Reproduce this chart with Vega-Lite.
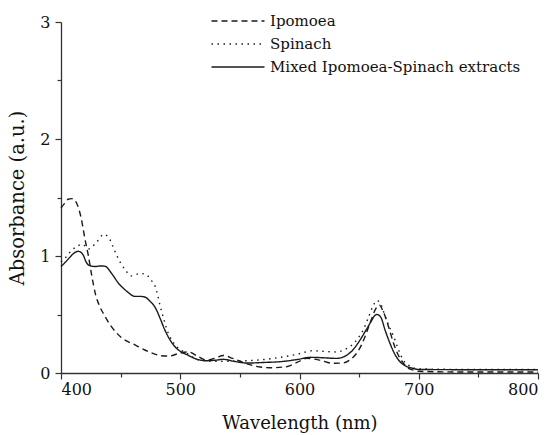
{
  "$schema": "https://vega.github.io/schema/vega-lite/v6.json",
  "width": 477,
  "height": 351,
  "autosize": {"type": "none"},
  "padding": {"left": 61, "top": 22, "right": 17, "bottom": 62},
  "background": "white",
  "config": {
    "view": {"stroke": null},
    "font": "DejaVu Serif",
    "axis": {"grid": false, "domainColor": "#333", "tickColor": "#333", "domainWidth": 1.3, "tickWidth": 1.2, "labelFont": "DejaVu Serif", "labelFontSize": 16, "labelColor": "#111", "titleFont": "DejaVu Serif", "titleFontSize": 18, "titleFontWeight": "normal", "titleColor": "#111"},
    "legend": {"labelFont": "DejaVu Serif"}
  },
  "data": {"values": [
    {"wl":400,"abs":1.41,"sample":"Ipomoea"},{"wl":403,"abs":1.45,"sample":"Ipomoea"},{"wl":406,"abs":1.485,"sample":"Ipomoea"},{"wl":409,"abs":1.49,"sample":"Ipomoea"},{"wl":412,"abs":1.47,"sample":"Ipomoea"},{"wl":415,"abs":1.4,"sample":"Ipomoea"},{"wl":417,"abs":1.32,"sample":"Ipomoea"},{"wl":420,"abs":1.15,"sample":"Ipomoea"},{"wl":423,"abs":1.0,"sample":"Ipomoea"},{"wl":426,"abs":0.82,"sample":"Ipomoea"},{"wl":429,"abs":0.67,"sample":"Ipomoea"},{"wl":432,"abs":0.58,"sample":"Ipomoea"},{"wl":436,"abs":0.5,"sample":"Ipomoea"},{"wl":442,"abs":0.4,"sample":"Ipomoea"},{"wl":451,"abs":0.3,"sample":"Ipomoea"},{"wl":462,"abs":0.24,"sample":"Ipomoea"},{"wl":473,"abs":0.185,"sample":"Ipomoea"},{"wl":484,"abs":0.148,"sample":"Ipomoea"},{"wl":491,"abs":0.145,"sample":"Ipomoea"},{"wl":498,"abs":0.165,"sample":"Ipomoea"},{"wl":507,"abs":0.18,"sample":"Ipomoea"},{"wl":515,"abs":0.14,"sample":"Ipomoea"},{"wl":522,"abs":0.11,"sample":"Ipomoea"},{"wl":530,"abs":0.13,"sample":"Ipomoea"},{"wl":536,"abs":0.15,"sample":"Ipomoea"},{"wl":544,"abs":0.125,"sample":"Ipomoea"},{"wl":556,"abs":0.078,"sample":"Ipomoea"},{"wl":565,"abs":0.055,"sample":"Ipomoea"},{"wl":575,"abs":0.045,"sample":"Ipomoea"},{"wl":589,"abs":0.054,"sample":"Ipomoea"},{"wl":598,"abs":0.09,"sample":"Ipomoea"},{"wl":606,"abs":0.125,"sample":"Ipomoea"},{"wl":617,"abs":0.11,"sample":"Ipomoea"},{"wl":628,"abs":0.083,"sample":"Ipomoea"},{"wl":636,"abs":0.085,"sample":"Ipomoea"},{"wl":642,"abs":0.11,"sample":"Ipomoea"},{"wl":648,"abs":0.17,"sample":"Ipomoea"},{"wl":652,"abs":0.24,"sample":"Ipomoea"},{"wl":656,"abs":0.34,"sample":"Ipomoea"},{"wl":660,"abs":0.45,"sample":"Ipomoea"},{"wl":664,"abs":0.55,"sample":"Ipomoea"},{"wl":667,"abs":0.58,"sample":"Ipomoea"},{"wl":670,"abs":0.53,"sample":"Ipomoea"},{"wl":673,"abs":0.45,"sample":"Ipomoea"},{"wl":676,"abs":0.35,"sample":"Ipomoea"},{"wl":679,"abs":0.25,"sample":"Ipomoea"},{"wl":683,"abs":0.15,"sample":"Ipomoea"},{"wl":686,"abs":0.1,"sample":"Ipomoea"},{"wl":690,"abs":0.05,"sample":"Ipomoea"},{"wl":695,"abs":0.026,"sample":"Ipomoea"},{"wl":700,"abs":0.015,"sample":"Ipomoea"},{"wl":720,"abs":0.01,"sample":"Ipomoea"},{"wl":750,"abs":0.008,"sample":"Ipomoea"},{"wl":780,"abs":0.008,"sample":"Ipomoea"},{"wl":800,"abs":0.008,"sample":"Ipomoea"},
    {"wl":400,"abs":0.95,"sample":"Spinach"},{"wl":405,"abs":1.0,"sample":"Spinach"},{"wl":409,"abs":1.05,"sample":"Spinach"},{"wl":413,"abs":1.08,"sample":"Spinach"},{"wl":418,"abs":1.1,"sample":"Spinach"},{"wl":423,"abs":1.06,"sample":"Spinach"},{"wl":430,"abs":1.12,"sample":"Spinach"},{"wl":436,"abs":1.185,"sample":"Spinach"},{"wl":441,"abs":1.14,"sample":"Spinach"},{"wl":444,"abs":1.07,"sample":"Spinach"},{"wl":447,"abs":1.0,"sample":"Spinach"},{"wl":450,"abs":0.94,"sample":"Spinach"},{"wl":454,"abs":0.88,"sample":"Spinach"},{"wl":459,"abs":0.83,"sample":"Spinach"},{"wl":466,"abs":0.85,"sample":"Spinach"},{"wl":471,"abs":0.845,"sample":"Spinach"},{"wl":475,"abs":0.8,"sample":"Spinach"},{"wl":479,"abs":0.74,"sample":"Spinach"},{"wl":484,"abs":0.54,"sample":"Spinach"},{"wl":490,"abs":0.34,"sample":"Spinach"},{"wl":495,"abs":0.25,"sample":"Spinach"},{"wl":500,"abs":0.2,"sample":"Spinach"},{"wl":506,"abs":0.165,"sample":"Spinach"},{"wl":516,"abs":0.11,"sample":"Spinach"},{"wl":530,"abs":0.1,"sample":"Spinach"},{"wl":545,"abs":0.1,"sample":"Spinach"},{"wl":556,"abs":0.105,"sample":"Spinach"},{"wl":570,"abs":0.115,"sample":"Spinach"},{"wl":584,"abs":0.134,"sample":"Spinach"},{"wl":598,"abs":0.16,"sample":"Spinach"},{"wl":611,"abs":0.19,"sample":"Spinach"},{"wl":620,"abs":0.185,"sample":"Spinach"},{"wl":631,"abs":0.18,"sample":"Spinach"},{"wl":638,"abs":0.2,"sample":"Spinach"},{"wl":644,"abs":0.24,"sample":"Spinach"},{"wl":650,"abs":0.31,"sample":"Spinach"},{"wl":654,"abs":0.38,"sample":"Spinach"},{"wl":658,"abs":0.48,"sample":"Spinach"},{"wl":662,"abs":0.58,"sample":"Spinach"},{"wl":665,"abs":0.62,"sample":"Spinach"},{"wl":668,"abs":0.59,"sample":"Spinach"},{"wl":672,"abs":0.48,"sample":"Spinach"},{"wl":676,"abs":0.38,"sample":"Spinach"},{"wl":679,"abs":0.31,"sample":"Spinach"},{"wl":683,"abs":0.2,"sample":"Spinach"},{"wl":687,"abs":0.11,"sample":"Spinach"},{"wl":691,"abs":0.07,"sample":"Spinach"},{"wl":695,"abs":0.045,"sample":"Spinach"},{"wl":700,"abs":0.035,"sample":"Spinach"},{"wl":750,"abs":0.03,"sample":"Spinach"},{"wl":800,"abs":0.03,"sample":"Spinach"},
    {"wl":400,"abs":0.91,"sample":"Mixed Ipomoea-Spinach extracts"},{"wl":404,"abs":0.95,"sample":"Mixed Ipomoea-Spinach extracts"},{"wl":407.5,"abs":0.99,"sample":"Mixed Ipomoea-Spinach extracts"},{"wl":411,"abs":1.025,"sample":"Mixed Ipomoea-Spinach extracts"},{"wl":414.5,"abs":1.04,"sample":"Mixed Ipomoea-Spinach extracts"},{"wl":418.5,"abs":1.01,"sample":"Mixed Ipomoea-Spinach extracts"},{"wl":421,"abs":0.95,"sample":"Mixed Ipomoea-Spinach extracts"},{"wl":423.5,"abs":0.92,"sample":"Mixed Ipomoea-Spinach extracts"},{"wl":428.5,"abs":0.91,"sample":"Mixed Ipomoea-Spinach extracts"},{"wl":433,"abs":0.915,"sample":"Mixed Ipomoea-Spinach extracts"},{"wl":437,"abs":0.912,"sample":"Mixed Ipomoea-Spinach extracts"},{"wl":442.5,"abs":0.85,"sample":"Mixed Ipomoea-Spinach extracts"},{"wl":448,"abs":0.77,"sample":"Mixed Ipomoea-Spinach extracts"},{"wl":455,"abs":0.7,"sample":"Mixed Ipomoea-Spinach extracts"},{"wl":462,"abs":0.655,"sample":"Mixed Ipomoea-Spinach extracts"},{"wl":466,"abs":0.655,"sample":"Mixed Ipomoea-Spinach extracts"},{"wl":470,"abs":0.65,"sample":"Mixed Ipomoea-Spinach extracts"},{"wl":475,"abs":0.61,"sample":"Mixed Ipomoea-Spinach extracts"},{"wl":479,"abs":0.56,"sample":"Mixed Ipomoea-Spinach extracts"},{"wl":483,"abs":0.47,"sample":"Mixed Ipomoea-Spinach extracts"},{"wl":487,"abs":0.37,"sample":"Mixed Ipomoea-Spinach extracts"},{"wl":491,"abs":0.29,"sample":"Mixed Ipomoea-Spinach extracts"},{"wl":496,"abs":0.22,"sample":"Mixed Ipomoea-Spinach extracts"},{"wl":500,"abs":0.185,"sample":"Mixed Ipomoea-Spinach extracts"},{"wl":506,"abs":0.155,"sample":"Mixed Ipomoea-Spinach extracts"},{"wl":512,"abs":0.125,"sample":"Mixed Ipomoea-Spinach extracts"},{"wl":522,"abs":0.105,"sample":"Mixed Ipomoea-Spinach extracts"},{"wl":530,"abs":0.11,"sample":"Mixed Ipomoea-Spinach extracts"},{"wl":536,"abs":0.117,"sample":"Mixed Ipomoea-Spinach extracts"},{"wl":545,"abs":0.1,"sample":"Mixed Ipomoea-Spinach extracts"},{"wl":556,"abs":0.085,"sample":"Mixed Ipomoea-Spinach extracts"},{"wl":570,"abs":0.09,"sample":"Mixed Ipomoea-Spinach extracts"},{"wl":584,"abs":0.097,"sample":"Mixed Ipomoea-Spinach extracts"},{"wl":598,"abs":0.115,"sample":"Mixed Ipomoea-Spinach extracts"},{"wl":609,"abs":0.134,"sample":"Mixed Ipomoea-Spinach extracts"},{"wl":620,"abs":0.13,"sample":"Mixed Ipomoea-Spinach extracts"},{"wl":631,"abs":0.125,"sample":"Mixed Ipomoea-Spinach extracts"},{"wl":640,"abs":0.155,"sample":"Mixed Ipomoea-Spinach extracts"},{"wl":645,"abs":0.2,"sample":"Mixed Ipomoea-Spinach extracts"},{"wl":650,"abs":0.27,"sample":"Mixed Ipomoea-Spinach extracts"},{"wl":656,"abs":0.37,"sample":"Mixed Ipomoea-Spinach extracts"},{"wl":660,"abs":0.44,"sample":"Mixed Ipomoea-Spinach extracts"},{"wl":663,"abs":0.49,"sample":"Mixed Ipomoea-Spinach extracts"},{"wl":665,"abs":0.5,"sample":"Mixed Ipomoea-Spinach extracts"},{"wl":668,"abs":0.48,"sample":"Mixed Ipomoea-Spinach extracts"},{"wl":672,"abs":0.36,"sample":"Mixed Ipomoea-Spinach extracts"},{"wl":676,"abs":0.25,"sample":"Mixed Ipomoea-Spinach extracts"},{"wl":680,"abs":0.16,"sample":"Mixed Ipomoea-Spinach extracts"},{"wl":684,"abs":0.1,"sample":"Mixed Ipomoea-Spinach extracts"},{"wl":689,"abs":0.06,"sample":"Mixed Ipomoea-Spinach extracts"},{"wl":695,"abs":0.04,"sample":"Mixed Ipomoea-Spinach extracts"},{"wl":700,"abs":0.03,"sample":"Mixed Ipomoea-Spinach extracts"},{"wl":750,"abs":0.028,"sample":"Mixed Ipomoea-Spinach extracts"},{"wl":800,"abs":0.028,"sample":"Mixed Ipomoea-Spinach extracts"}
  ]},
  "mark": {"type": "line", "interpolate": "monotone", "color": "#1a1a1a", "strokeWidth": 1.4},
  "encoding": {
    "x": {"field": "wl", "type": "quantitative", "title": "Wavelength (nm)",
      "scale": {"domain": [400, 800], "nice": false, "zero": false},
      "axis": {"values": [400,450,500,550,600,650,700,750,800], "format": "d", "labelExpr": "datum.value % 100 === 0 ? datum.label : ''",
        "tickSize": {"condition": {"test": "datum.value % 100 === 0", "value": 6}, "value": 4}, "labelPadding": 2, "titlePadding": 17}},
    "y": {"field": "abs", "type": "quantitative", "title": "Absorbance (a.u.)",
      "scale": {"domain": [0, 3], "nice": false},
      "axis": {"values": [0,0.5,1,1.5,2,2.5,3], "format": "~g", "labelExpr": "datum.value % 1 === 0 ? datum.label : ''",
        "tickSize": {"condition": {"test": "datum.value % 1 === 0", "value": 6}, "value": 4}, "labelPadding": 5, "titlePadding": 12, "titleFontSize": 19.5}},
    "strokeDash": {"field": "sample", "type": "nominal",
      "scale": {"domain": ["Ipomoea", "Spinach", "Mixed Ipomoea-Spinach extracts"], "range": [[6, 4], [1.5, 4.5], [1, 0]]},
      "legend": {"title": null, "orient": "none", "legendX": 167, "legendY": -11, "symbolType": "M-3,0H3", "symbolSize": 312, "symbolStrokeColor": "#1a1a1a", "symbolStrokeWidth": 1.4, "labelFont": "DejaVu Serif", "labelFontSize": 15, "labelColor": "#111", "labelOffset": 22, "labelLimit": 0, "rowPadding": 5}}
  }
}
